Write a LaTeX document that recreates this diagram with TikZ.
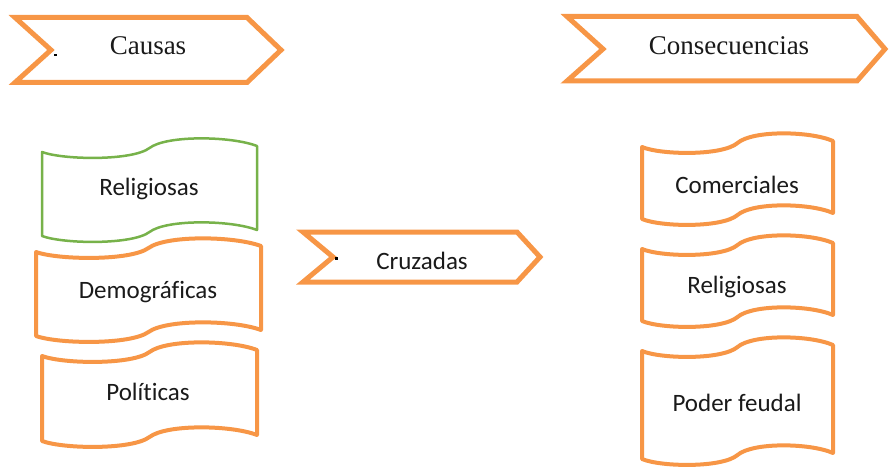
\documentclass[tikz,border=0pt]{standalone}
\usepackage{fontspec}
\setmainfont{Carlito}[Ligatures=NoCommon]
\newfontfamily\titulofont{Liberation Serif}
\definecolor{naranja}{HTML}{F79646}
\definecolor{verde}{HTML}{77B24A}
\definecolor{texto}{HTML}{1A1A1A}
% cinta ondulada: {izq}{der}{arriba}{abajo}{estilo}
\newcommand{\cinta}[5]{%
  \draw[#5] (#1,#3+4) .. controls ({#1+0.1*(#2-#1)},#3+12) and ({#1+0.42*(#2-#1)},#3+13) .. ({#1+0.5*(#2-#1)},#3)
    .. controls ({#1+0.58*(#2-#1)},#3-13) and ({#1+0.88*(#2-#1)},#3-12) .. (#2,#3-2)
    -- (#2,#4-2)
    .. controls ({#1+0.88*(#2-#1)},#4-12) and ({#1+0.58*(#2-#1)},#4-13) .. ({#1+0.5*(#2-#1)},#4)
    .. controls ({#1+0.42*(#2-#1)},#4+13) and ({#1+0.1*(#2-#1)},#4+12) .. (#1,#4+4) -- cycle;}
\begin{document}
\begin{tikzpicture}[x=1pt, y=-1pt,
    flecha/.style={draw=naranja, line width=5pt, miter limit=10},
    onda/.style={draw=naranja, fill=white, line width=4pt, line cap=round, line join=round},
    ondaverde/.style={draw=verde, fill=white, line width=2.5pt, line cap=round, line join=round},
    titulo/.style={text=texto, font=\titulofont\fontsize{27}{32}\selectfont},
    rotulo/.style={text=texto, font=\fontsize{25}{30}\selectfont}]
\useasboundingbox (0,0) rectangle (890,468);

% flechas
\draw[flecha] (15,17.5) -- (247,17.5) -- (281,50) -- (247,82.5) -- (15,82.5) -- (51,50) -- cycle;
\draw[flecha] (567,16.5) -- (857,16.5) -- (885,49) -- (857,81) -- (567,81) -- (603,49) -- cycle;
\draw[flecha] (303,232) -- (517,232) -- (540,257) -- (517,282) -- (303,282) -- (333,257) -- cycle;
\fill[black] (54,54) rectangle (56.5,56.5);
\fill[black] (335,257) rectangle (337.5,259.5);

\node[titulo] (causas) at (148,46) {Causas};
\node[titulo] (consecuencias) at (729,46) {Consecuencias};
\node[rotulo] (cruzadas) at (422,261) {Cruzadas};

% causas
\cinta{42}{257}{148}{232}{ondaverde}
\cinta{36}{261}{248}{332}{onda}
\cinta{42}{257}{352}{437}{onda}
\node[rotulo] (religiosas) at (149,189) {Religiosas};
\node[rotulo] (demograficas) at (148,292) {Demográficas};
\node[rotulo] (politicas) at (148,392) {Políticas};

% consecuencias
\cinta{642}{833}{143}{215}{onda}
\cinta{642}{833}{245}{317}{onda}
\cinta{642}{833}{347}{455}{onda}
\node[rotulo] (comerciales) at (737,185) {Comerciales};
\node[rotulo] (religiosasB) at (737,287) {Religiosas};
\node[rotulo] (poder) at (737,403) {Poder feudal};
\end{tikzpicture}
\end{document}
